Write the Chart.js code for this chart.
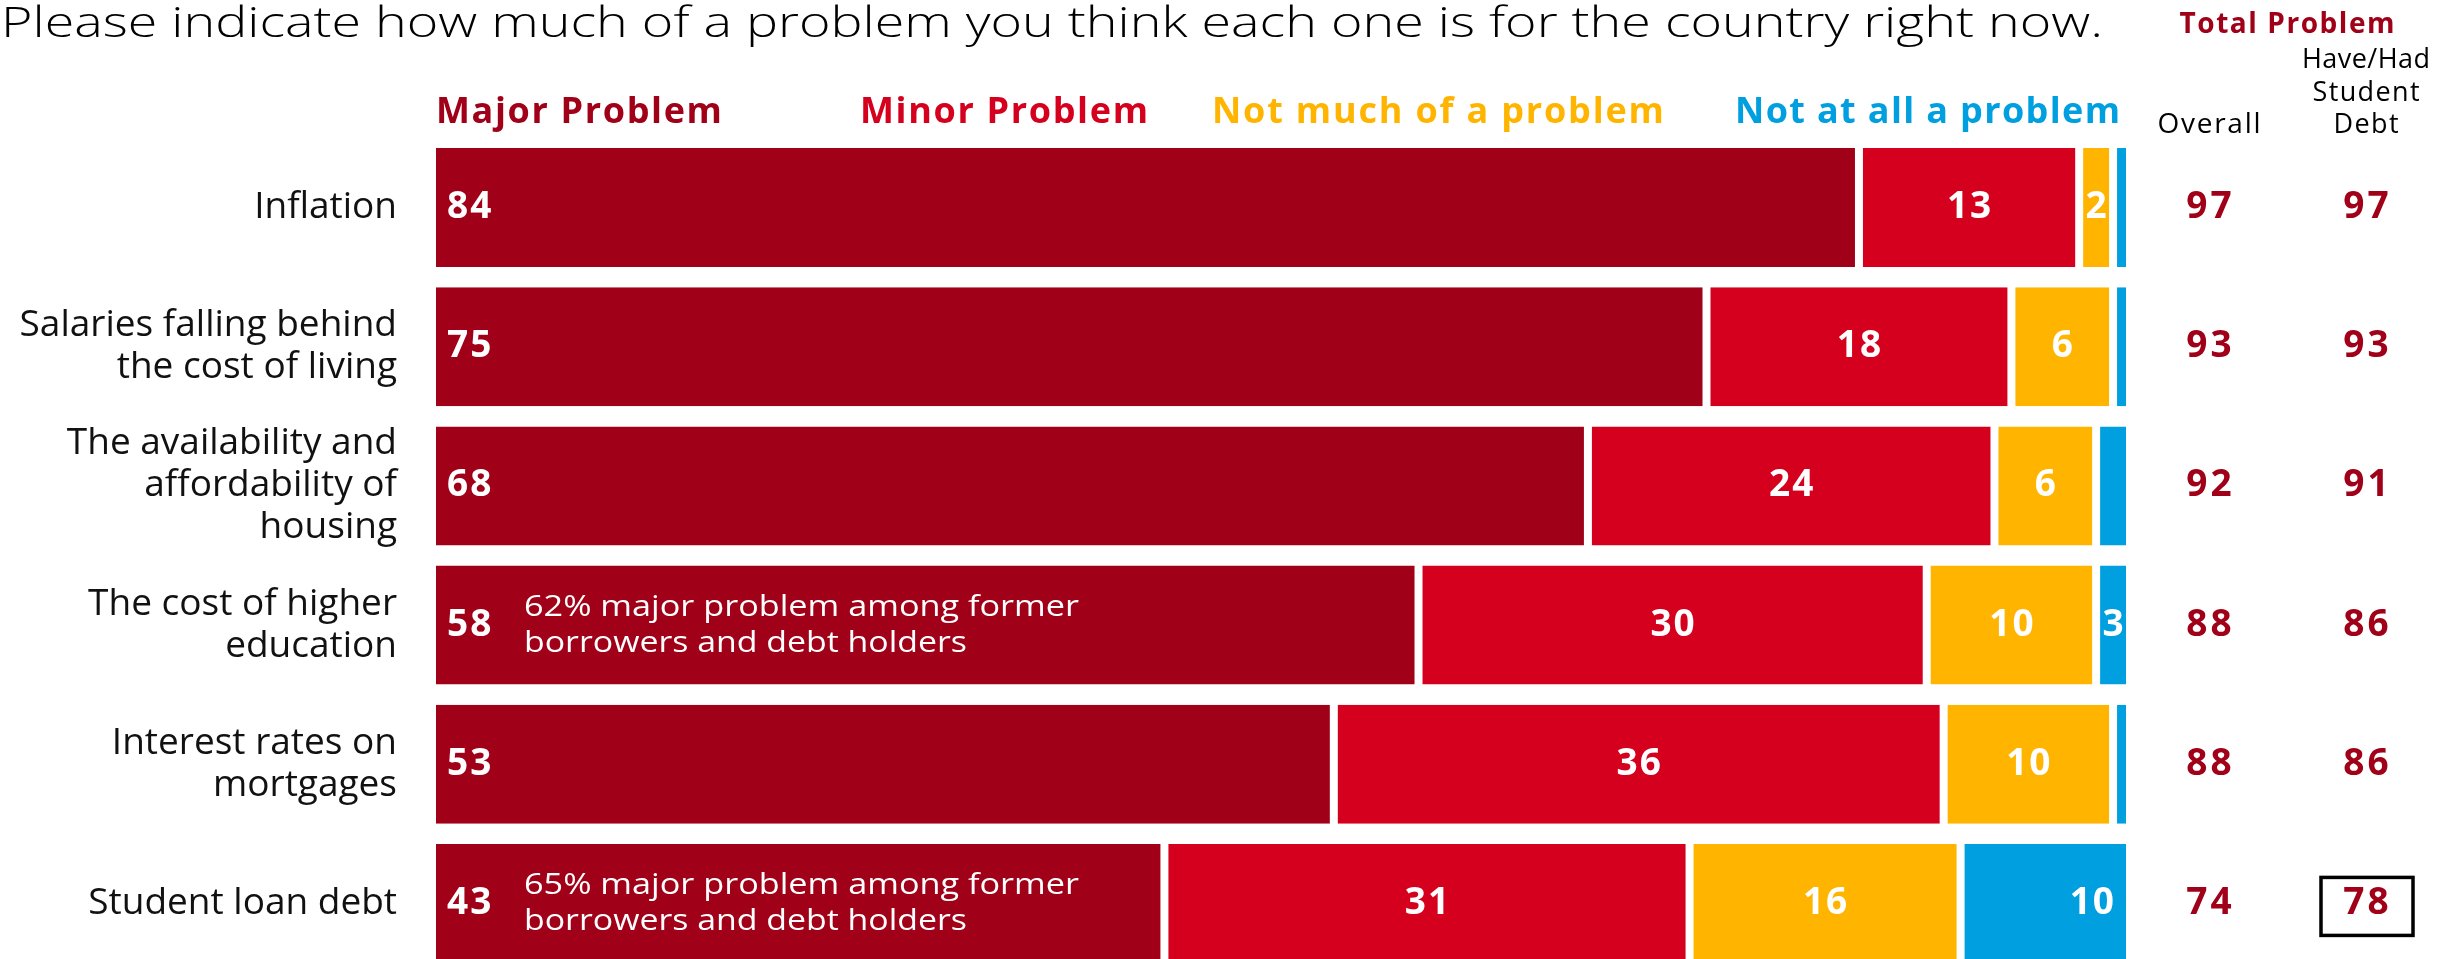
<!DOCTYPE html>
<html>
<head>
<meta charset="utf-8">
<title>Problems facing the country</title>
<script src="https://cdn.jsdelivr.net/npm/chart.js@4.4.1/dist/chart.umd.min.js"></script>
<style>
  html, body { margin: 0; padding: 0; background: #ffffff; overflow: hidden; }
  #wrap { width: 2440px; height: 959px; overflow: hidden; position: relative; }
  canvas { display: block; }
</style>
</head>
<body>
<div id="wrap"><canvas id="chart" width="2440" height="973"></canvas></div>
<script>
// ---- data ----
const titleText = 'Please indicate how much of a problem you think each one is for the country right now.';
const categories = [
  ['Inflation'],
  ['Salaries falling behind', 'the cost of living'],
  ['The availability and', 'affordability of', 'housing'],
  ['The cost of higher', 'education'],
  ['Interest rates on', 'mortgages'],
  ['Student loan debt']
];
const seriesNames = ['Major Problem', 'Minor Problem', 'Not much of a problem', 'Not at all a problem'];
const majorProblem    = [84, 75, 68, 58, 53, 43];
const minorProblem    = [13, 18, 24, 30, 36, 31];
const notMuchProblem  = [2, 6, 6, 10, 10, 16];
const notAtAllProblem = [1, 1, 2, 3, 2, 10];
const columnHeader = 'Total Problem';
const overallHeader = ['Overall'];
const debtHeader = ['Have/Had', 'Student', 'Debt'];
const totalOverall     = [97, 93, 92, 88, 88, 74];
const totalStudentDebt = [97, 93, 91, 86, 86, 78];
const boxedDebtValue   = [false, false, false, false, false, true];
const rowNotes = [
  null, null, null,
  ['62% major problem among former', 'borrowers and debt holders'],
  null,
  ['65% major problem among former', 'borrowers and debt holders']
];

// ---- style ----
const FONT = "'Open Sans', 'Noto Sans', 'DejaVu Sans', sans-serif";
const seriesColors = ['#A00018', '#D5001E', '#FFB500', '#009FDF'];
const valueRed = '#A00018';
const labelMin = [0, 0, 2, 3];            // smallest value that gets a number inside its segment
const legendOffsets = [0, 424, 776, 1299]; // legend x offsets from the plot's left edge
const legendWidths = [286, 288, 452, 385];

// o.fit: target width reached with letter spacing; o.stretch: target width reached by widening glyphs
function drawText(ctx, str, x, y, o) {
  ctx.save();
  ctx.font = o.font;
  ctx.fillStyle = o.color || '#000';
  ctx.textAlign = o.align || 'left';
  ctx.textBaseline = o.baseline || 'alphabetic';
  const hasSpacing = 'letterSpacing' in ctx;
  if (hasSpacing) ctx.letterSpacing = '0px';
  if (o.stretch) {
    const natural = ctx.measureText(str).width;
    const s = o.stretch / natural;
    ctx.translate(x, y);
    ctx.scale(s, 1);
    ctx.fillText(str, 0, 0);
    ctx.restore();
    return;
  }
  let sp = 0;
  if (hasSpacing) {
    if (o.fit) {
      const natural = ctx.measureText(str).width;
      const n = Array.from(str).length;
      sp = (o.fit - natural) / Math.max(1, n - 1);
    } else if (o.spacing) {
      sp = o.spacing;
    }
    ctx.letterSpacing = sp.toFixed(2) + 'px';
    // spacing is also appended after the final glyph; compensate for it
    if (ctx.textAlign === 'center') x += sp / 2;
    else if (ctx.textAlign === 'right') x += sp;
  }
  ctx.fillText(str, x, y);
  ctx.restore();
}

function textWidth(ctx, str, font, spacing) {
  ctx.save();
  ctx.font = font;
  if ('letterSpacing' in ctx) ctx.letterSpacing = (spacing || 0) + 'px';
  const w = ctx.measureText(str).width - (spacing || 0);
  ctx.restore();
  return w;
}

const overlay = {
  id: 'overlay',
  afterDatasetsDraw(chart) {
    const ctx = chart.ctx;
    const area = chart.chartArea;
    const yScale = chart.scales.y;

    // numbers inside the segments
    chart.data.datasets.forEach((ds, d) => {
      const meta = chart.getDatasetMeta(d);
      meta.data.forEach((el, i) => {
        const v = ds.data[i];
        if (v < labelMin[d]) return;
        const lo = Math.min(el.x, el.base) + (d === 0 ? 0 : 4);
        const hi = Math.min(Math.max(el.x, el.base) - 4, area.right - 4);
        const font = `700 37px ${FONT}`;
        const str = String(v);
        const w = textWidth(ctx, str, font, 2);
        if (d === 0) {
          drawText(ctx, str, lo + 11, el.y, { font, color: '#fff', align: 'left', baseline: 'middle', spacing: 2 });
        } else if (d === 3 && hi - lo > w + 30) {
          drawText(ctx, str, hi - 12, el.y, { font, color: '#fff', align: 'right', baseline: 'middle', spacing: 2 });
        } else {
          drawText(ctx, str, (lo + hi) / 2, el.y, { font, color: '#fff', align: 'center', baseline: 'middle', spacing: 2 });
        }
      });
    });

    // notes inside the major-problem bars
    rowNotes.forEach((lines, i) => {
      if (!lines) return;
      const yc = yScale.getPixelForValue(i);
      lines.forEach((line, k) => {
        const y = yc + (k - (lines.length - 1) / 2) * 36;
        drawText(ctx, line, area.left + 88, y, {
          font: `400 30px ${FONT}`, color: '#fff', baseline: 'middle',
          stretch: k === 0 ? 555 : 443
        });
      });
    });
  },
  afterDraw(chart) {
    const ctx = chart.ctx;
    const area = chart.chartArea;
    const yScale = chart.scales.y;

    // title
    drawText(ctx, titleText, 1, 37, { font: `300 42px ${FONT}`, color: '#000', stretch: 2102 });

    // series legend
    seriesNames.forEach((name, d) => {
      drawText(ctx, name, area.left + legendOffsets[d], 123, {
        font: `700 36px ${FONT}`, color: seriesColors[d], fit: legendWidths[d]
      });
    });

    // right-hand columns
    const colOverall = area.right + 79;
    const colDebt = area.right + 236;
    drawText(ctx, columnHeader, area.right + 157, 33, { font: `700 28px ${FONT}`, color: valueRed, align: 'center', fit: 215 });
    overallHeader.forEach((t) => {
      drawText(ctx, t, colOverall, 133, { font: `400 28px ${FONT}`, color: '#000', align: 'center', fit: 103 });
    });
    const debtFits = [128, 107, 65];
    debtHeader.forEach((t, k) => {
      drawText(ctx, t, colDebt, 68 + k * 32.5, { font: `400 27px ${FONT}`, color: '#000', align: 'center', fit: debtFits[k] });
    });

    categories.forEach((c, i) => {
      const y = yScale.getPixelForValue(i);
      const font = `700 37px ${FONT}`;
      drawText(ctx, String(totalOverall[i]), colOverall, y, { font, color: valueRed, align: 'center', baseline: 'middle', spacing: 3 });
      drawText(ctx, String(totalStudentDebt[i]), colDebt, y, { font, color: valueRed, align: 'center', baseline: 'middle', spacing: 3 });
      if (boxedDebtValue[i]) {
        ctx.save();
        ctx.strokeStyle = '#000';
        ctx.lineWidth = 3.5;
        ctx.strokeRect(colDebt - 45, y - 26, 92, 58);
        ctx.restore();
      }
    });
  }
};

function segment(d, data) {
  return {
    label: seriesNames[d],
    data,
    backgroundColor: seriesColors[d],
    borderColor: '#ffffff',
    borderWidth: { left: d === 0 ? 0 : 4, right: 4, top: 0, bottom: 0 },
    borderSkipped: false,
    barPercentage: 0.855,
    categoryPercentage: 1,
    clip: { left: false, right: -4, top: false, bottom: false }
  };
}

new Chart(document.getElementById('chart'), {
  type: 'bar',
  data: {
    labels: categories,
    datasets: [
      segment(0, majorProblem),
      segment(1, minorProblem),
      segment(2, notMuchProblem),
      segment(3, notAtAllProblem)
    ]
  },
  options: {
    indexAxis: 'y',
    responsive: false,
    devicePixelRatio: 1,
    animation: false,
    layout: { padding: { top: 138, right: 310, bottom: 0, left: 0 } },
    plugins: {
      legend: { display: false },
      title: { display: false },
      tooltip: { enabled: false }
    },
    scales: {
      x: { stacked: true, min: 0, max: 100, display: false },
      y: {
        stacked: true,
        grid: { display: false, drawTicks: false },
        border: { display: false },
        ticks: {
          autoSkip: false,
          padding: 39,
          color: '#111',
          font: { family: FONT, size: 37, weight: '400', lineHeight: 1.135 }
        },
        afterFit(scale) {
          scale.width = 436;
          // the category rows fill the plot height exactly
          scale.paddingTop = 0;
          scale.paddingBottom = 0;
        }
      }
    }
  },
  plugins: [overlay]
});
</script>
</body>
</html>
